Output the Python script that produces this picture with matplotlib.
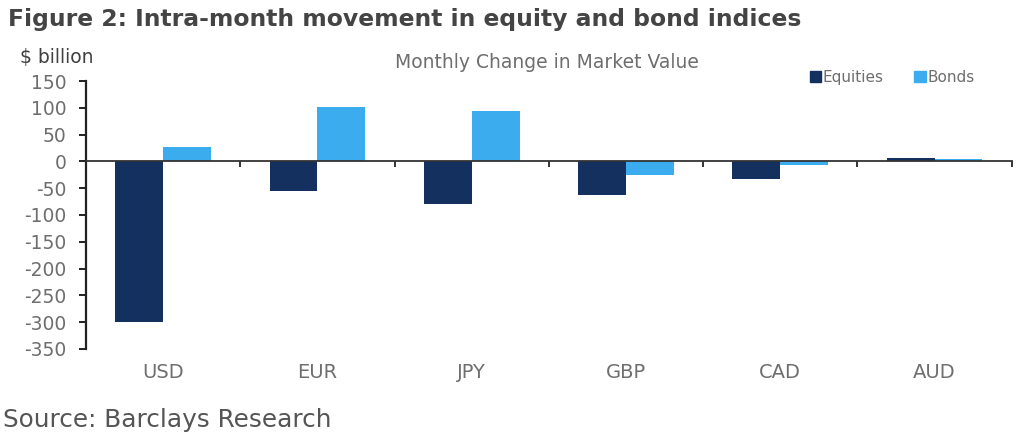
import numpy as np
import matplotlib
matplotlib.use("Agg")
import matplotlib.pyplot as plt
from matplotlib.patches import Patch
import matplotlib.transforms as mtransforms

# data ($ billion)
currencies = ["USD", "EUR", "JPY", "GBP", "CAD", "AUD"]
equities = [-300, -56, -80, -63, -33, 6]
bonds = [27, 102, 95, -25, -6, 4]
y_ticks = [150, 100, 50, 0, -50, -100, -150, -200, -250, -300, -350]

EQ_COLOR = "#14305f"
BD_COLOR = "#3badee"
TXT = "#6e6e6e"
FONT = "DejaVu Sans"

fig = plt.figure(figsize=(10.23, 4.41), dpi=100)
ax = fig.add_axes([0.084, 0.209, 0.905, 0.607])

x = np.arange(len(currencies))
w = 0.31
ax.bar(x - w / 2, equities, width=w, color=EQ_COLOR, zorder=2)
ax.bar(x + w / 2, bonds, width=w, color=BD_COLOR, zorder=2)

ax.set_xlim(-0.5, len(currencies) - 0.5)
ax.set_ylim(-350, 150)

# axes styling
for s in ["top", "right"]:
    ax.spines[s].set_visible(False)
ax.spines["bottom"].set_position(("data", 0))
ax.spines["left"].set_linewidth(1.6)
ax.spines["left"].set_color("#222222")
ax.spines["bottom"].set_color("#333333")
ax.spines["bottom"].set_linewidth(1.3)

ax.set_yticks(y_ticks)
ax.set_yticklabels([str(v) for v in y_ticks], fontfamily=FONT, fontsize=13.5, color=TXT)
ax.tick_params(axis="y", length=5, width=1.4, color="#222222", pad=9)

ax.set_xticks(np.arange(len(currencies) + 1) - 0.5)
ax.set_xticklabels([])
ax.tick_params(axis="x", direction="out", length=4, width=1.4, color="#333333")

# category labels sit below the plot, not on the zero line
trans = mtransforms.blended_transform_factory(ax.transData, ax.transAxes)
for i, c in enumerate(currencies):
    ax.text(i, -0.088, c, transform=trans, ha="center", va="center",
            fontfamily=FONT, fontsize=14, color=TXT)

# texts
fig.text(0.008, 0.955, "Figure 2: Intra-month movement in equity and bond indices",
         fontfamily=FONT, fontweight="bold", fontsize=16.9,
         color="#444444", ha="left", va="center")
fig.text(0.02, 0.87, "$ billion", fontfamily=FONT, fontsize=13.5,
         color="#404040", ha="left", va="center")
fig.text(0.535, 0.858, "Monthly Change in Market Value", fontfamily=FONT,
         fontsize=13.5, color=TXT, ha="center", va="center")
fig.text(0.003, 0.048, "Source: Barclays Research", fontfamily=FONT,
         fontsize=17.8, color="#555555", ha="left", va="center")

handles = [Patch(color=EQ_COLOR, label="Equities"), Patch(color=BD_COLOR, label="Bonds")]
leg = fig.legend(handles=handles, loc="center", bbox_to_anchor=(0.872, 0.825), ncol=2,
                 frameon=False, handlelength=0.75, handleheight=0.75, handletextpad=0.1,
                 columnspacing=2.0, prop={"family": FONT, "size": 11})
for t in leg.get_texts():
    t.set_color(TXT)

fig.savefig("out.png", dpi=100)
